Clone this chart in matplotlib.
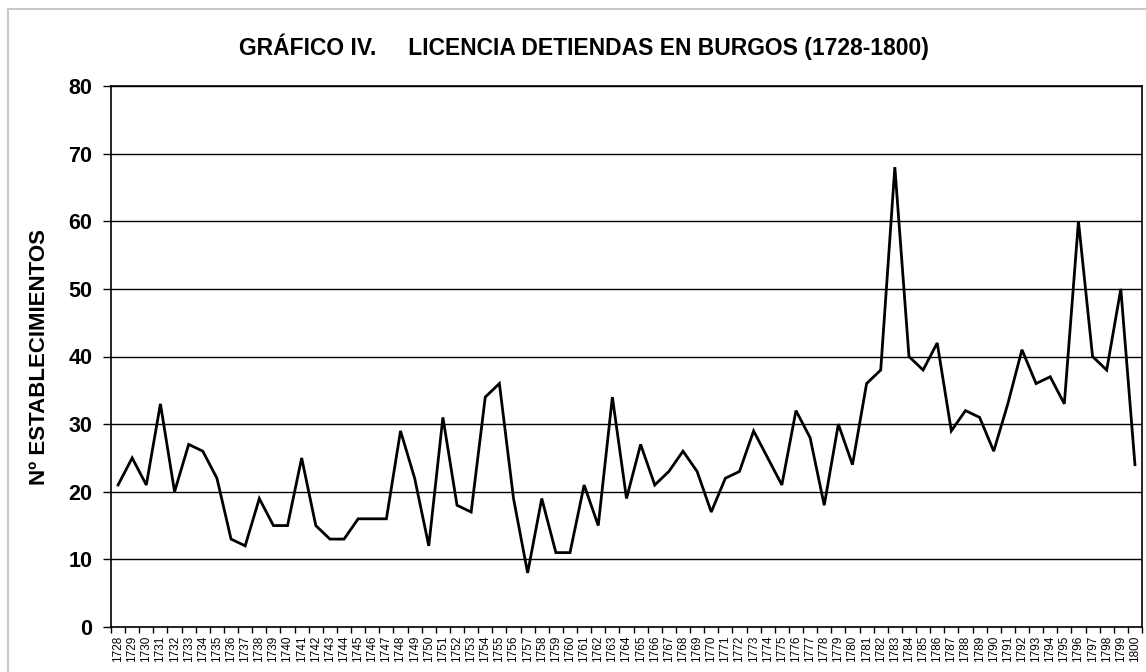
import matplotlib.pyplot as plt
from matplotlib.lines import Line2D

# Licencias de tiendas en Burgos, 1728-1800
years = list(range(1728, 1801))
licencias = [21, 25, 21, 33, 20, 27, 26, 22, 13, 12,
             19, 15, 15, 25, 15, 13, 13, 16, 16, 16,
             29, 22, 12, 31, 18, 17, 34, 36, 19, 8,
             19, 11, 11, 21, 15, 34, 19, 27, 21, 23,
             26, 23, 17, 22, 23, 29, 25, 21, 32, 28,
             18, 30, 24, 36, 38, 68, 40, 38, 42, 29,
             32, 31, 26, 33, 41, 36, 37, 33, 60, 40,
             38, 50, 24]
y_ticks = [0, 10, 20, 30, 40, 50, 60, 70, 80]

plt.rcParams['font.family'] = ['Liberation Sans', 'DejaVu Sans']

W, H = 1146, 672
fig = plt.figure(figsize=(W / 100, H / 100), dpi=100)
ax = fig.add_axes([111 / W, 1 - 627 / H, (1142 - 111) / W, (627 - 86) / H])

x = list(range(len(years)))
ax.plot(x, licencias, color="black", linewidth=2, solid_joinstyle="miter")

ax.set_xlim(-0.5, len(years) - 0.5)
ax.set_ylim(0, 80)
ax.set_yticks(y_ticks)
ax.set_yticklabels([str(v) for v in y_ticks], fontsize=15.5, fontweight="bold")
ax.yaxis.grid(True, color="black", linewidth=1)
ax.set_axisbelow(True)

# category labels between boundary ticks (Excel style)
ax.set_xticks(x)
ax.set_xticklabels([str(y) for y in years], rotation=90, fontsize=8.5)
ax.tick_params(axis="x", which="major", length=0, pad=6)
ax.set_xticks([i - 0.5 for i in range(len(years) + 1)], minor=True)
ax.tick_params(axis="x", which="minor", length=4, width=1, direction="out", color="black")
ax.tick_params(axis="y", length=5.5, width=1, direction="out", color="black", pad=8)

for s in ax.spines.values():
    s.set_color("black")
    s.set_linewidth(1.2)

fig.text(40 / W, 1 - 357 / H, "Nº ESTABLECIMIENTOS", rotation=90,
         ha="center", va="center", fontsize=16, fontweight="bold")

fig.text(584 / W, 1 - 47 / H, "GRÁFICO IV.     LICENCIA DETIENDAS EN BURGOS (1728-1800)",
         ha="center", va="center", fontsize=16.5, fontweight="bold")

# light gray page frame lines
fig.add_artist(Line2D([8 / W, 1], [1 - 9 / H, 1 - 9 / H], color="#c8c8c8", linewidth=1.5))
fig.add_artist(Line2D([8 / W, 8 / W], [0, 1 - 9 / H], color="#c8c8c8", linewidth=1.5))

fig.savefig("out.png", dpi=100)
